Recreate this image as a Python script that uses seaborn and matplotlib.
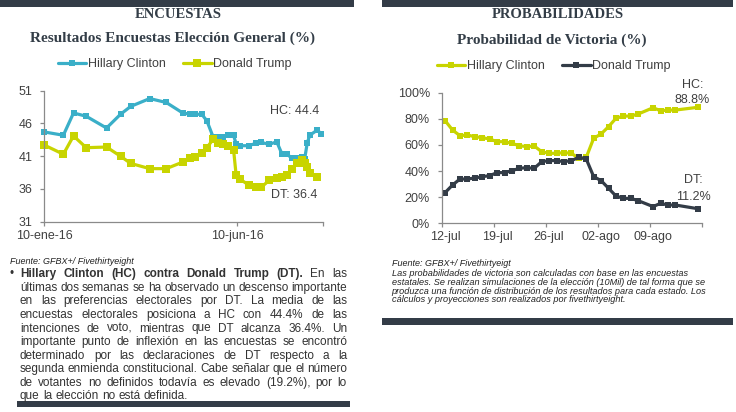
import numpy as np
import pandas as pd
import matplotlib
matplotlib.use("Agg")
import matplotlib.pyplot as plt
from matplotlib.lines import Line2D
from matplotlib.patches import Rectangle
import seaborn as sns

# ---------------- data ----------------
poll_dates = ["2016-01-10", "2016-01-25", "2016-02-02", "2016-02-12", "2016-02-28",
              "2016-03-10", "2016-03-18", "2016-04-02", "2016-04-15", "2016-04-28",
              "2016-05-04", "2016-05-08", "2016-05-13", "2016-05-17", "2016-05-22",
              "2016-05-26", "2016-05-30", "2016-06-03", "2016-06-07", "2016-06-09",
              "2016-06-12", "2016-06-19", "2016-06-25", "2016-06-29", "2016-07-05",
              "2016-07-11", "2016-07-15", "2016-07-19", "2016-07-23", "2016-07-27",
              "2016-07-31", "2016-08-02", "2016-08-04", "2016-08-06", "2016-08-12",
              "2016-08-15"]
poll_hc = [44.7, 44.2, 47.6, 47.1, 45.3, 47.4, 48.6, 49.8, 49.2, 47.6,
           47.4, 47.4, 47.4, 46.4, 43.9, 44.0, 44.0, 44.2, 44.2, 42.9,
           42.6, 42.6, 43.0, 43.1, 42.8, 43.2, 41.4, 41.3, 40.7, 40.8,
           40.9, 40.6, 43.0, 44.2, 45.0, 44.4]
poll_dt = [42.7, 41.3, 44.1, 42.3, 42.4, 41.0, 39.9, 39.1, 39.1, 40.1,
           40.7, 40.9, 41.5, 42.3, 43.6, 43.0, 42.9, 42.5, 42.0, 38.2,
           37.5, 36.6, 36.3, 36.3, 37.3, 37.7, 37.9, 38.2, 39.1, 39.9,
           40.4, 40.0, 39.4, 38.5, 37.9, np.nan]
poll_ticks = ["2016-01-10", "2016-06-10"]
poll_tick_labels = ["10-ene-16", "10-jun-16"]
poll_yticks = [31, 36, 41, 46, 51]

prob_dates = ["2016-07-12", "2016-07-13", "2016-07-14", "2016-07-15", "2016-07-16",
              "2016-07-17", "2016-07-18", "2016-07-19", "2016-07-20", "2016-07-21",
              "2016-07-22", "2016-07-23", "2016-07-24", "2016-07-25", "2016-07-26",
              "2016-07-27", "2016-07-28", "2016-07-29", "2016-07-30", "2016-07-31",
              "2016-08-01", "2016-08-02", "2016-08-03", "2016-08-04", "2016-08-05",
              "2016-08-06", "2016-08-07", "2016-08-09", "2016-08-10", "2016-08-11",
              "2016-08-12", "2016-08-15"]
prob_hc = [78.6, 71.4, 67.1, 67.6, 66.3, 65.6, 64.5, 62.5, 62.5, 61.2,
           59.4, 58.7, 59.2, 54.8, 53.6, 53.6, 54.1, 53.6, 49.7, 50.5,
           65.1, 68.4, 74.0, 80.4, 82.1, 82.1, 83.7, 88.5, 86.2, 86.7,
           86.7, 88.8]
prob_dt = [23.5, 29.3, 33.9, 33.9, 34.7, 35.7, 36.5, 38.8, 38.8, 40.3,
           42.1, 42.6, 42.1, 47.2, 48.0, 48.0, 47.2, 48.0, 50.5, 49.2,
           35.7, 32.7, 26.8, 20.9, 19.1, 19.1, 17.3, 12.8, 15.3, 14.0,
           14.0, 11.2]
prob_ticks = ["2016-07-12", "2016-07-19", "2016-07-26", "2016-08-02", "2016-08-09"]
prob_tick_labels = ["12-jul", "19-jul", "26-jul", "02-ago", "09-ago"]
prob_yticks = [0, 20, 40, 60, 80, 100]

series_names = ["Hillary Clinton", "Donald Trump"]

para_lines = [
    "últimas dos semanas se ha observado un descenso importante",
    "en las preferencias electorales por DT. La media de las",
    "encuestas electorales posiciona a HC con 44.4% de las",
    "intenciones de voto, mientras que DT alcanza 36.4%. Un",
    "importante punto de inflexión en las encuestas se encontró",
    "determinado por las declaraciones de DT respecto a la",
    "segunda enmienda constitucional. Cabe señalar que el número",
    "de votantes no definidos todavía es elevado (19.2%), por lo",
    "que la elección no está definida.",
]
para_bold = "Hillary Clinton (HC) contra Donald Trump (DT)."
para_first_rest = "En las"

note_lines = [
    "Las probabilidades de victoria son calculadas con base en las encuestas",
    "estatales. Se realizan simulaciones de la elección (10Mil) de tal forma que se",
    "produzca una función de distribución de los resultados para cada estado. Los",
    "cálculos y proyecciones son realizados por fivethirtyeight.",
]

# ---------------- style ----------------
BLUE = "#3aafc8"
YELLOW = "#c8d400"
DARK = "#333c47"
GREY = "#8a8a8a"
TXT = "#404040"
TITLE_C = "#333d47"

sns.set_theme(style="white")
plt.rcParams['font.family'] = ['Liberation Sans', 'DejaVu Sans']

W, H = 736, 412
fig = plt.figure(figsize=(W / 100, H / 100), dpi=100)


def fx(px):
    return px / W


def fy(py):
    return 1 - py / H


# ---------------- left chart ----------------
ax1 = fig.add_axes([fx(44.3), fy(221.7), 279 / W, 131 / H])
pd_dates = pd.to_datetime(poll_dates)
sns.lineplot(x=pd_dates, y=poll_hc, ax=ax1, color=BLUE, lw=2.3, marker="s",
             markersize=4.6, markeredgewidth=0, legend=False, clip_on=False)
sns.lineplot(x=pd_dates, y=poll_dt, ax=ax1, color=YELLOW, lw=2.3, marker="s",
             markersize=5.6, markeredgewidth=0, legend=False, clip_on=False)
ax1.set_xlim(pd.Timestamp("2016-01-10"), pd.Timestamp("2016-08-16 16:00"))
ax1.set_ylim(31, 51)
ax1.set_yticks(poll_yticks)
ax1.set_yticklabels([str(v) for v in poll_yticks])
ax1.set_xticks(pd.to_datetime(poll_ticks))
ax1.set_xticklabels(poll_tick_labels)
ax1.set_xticks([pd.Timestamp("2016-08-16 16:00")], minor=True)

# ---------------- right chart ----------------
ax2 = fig.add_axes([fx(441.7), fy(223.3), 260 / W, 130.6 / H])
pr_dates = pd.to_datetime(prob_dates)
sns.lineplot(x=pr_dates, y=prob_hc, ax=ax2, color=YELLOW, lw=2.3, marker="s",
             markersize=4.4, markeredgewidth=0, legend=False, clip_on=False)
sns.lineplot(x=pr_dates, y=prob_dt, ax=ax2, color=DARK, lw=2.3, marker="s",
             markersize=4.4, markeredgewidth=0, legend=False, clip_on=False)
start = pd.Timestamp(prob_ticks[0]) - pd.Timedelta(hours=11)
ax2.set_xlim(start, start + pd.Timedelta(days=35))
ax2.set_ylim(0, 100)
ax2.set_yticks(prob_yticks)
ax2.set_yticklabels([f"{v}%" for v in prob_yticks])
ax2.set_xticks(pd.to_datetime(prob_ticks))
ax2.set_xticklabels(prob_tick_labels)
ax2.set_xticks([start + pd.Timedelta(days=7 * k) for k in range(6)], minor=True)

for ax in (ax1, ax2):
    ax.set_xlabel("")
    ax.set_ylabel("")
    ax.set_facecolor("none")
    for s in ("top", "right"):
        ax.spines[s].set_visible(False)
    for s in ("left", "bottom"):
        ax.spines[s].set_color(GREY)
        ax.spines[s].set_linewidth(0.9)
    ax.tick_params(axis="y", which="major", length=3, width=0.9, color=GREY,
                   direction="out", labelsize=9, labelcolor=TXT, pad=5.5, left=True)
    ax.tick_params(axis="x", which="minor", length=3, width=0.9, color=GREY,
                   direction="out", bottom=True)
    ax.grid(False)

ax1.tick_params(axis="x", which="major", length=3, width=0.9, color=GREY,
                direction="out", labelsize=9, labelcolor=TXT, pad=3, bottom=True)
ax2.tick_params(axis="x", which="major", length=0, labelsize=9, labelcolor=TXT,
                pad=5.5, bottom=True)

# ---------------- legends ----------------
h_left = [Line2D([0], [0], color=BLUE, lw=2.3, marker="s", markersize=4.6, markeredgewidth=0),
          Line2D([0], [0], color=YELLOW, lw=2.3, marker="s", markersize=5.6, markeredgewidth=0)]
fig.legend(h_left, series_names, loc="center", bbox_to_anchor=(fx(174.5), fy(64)),
           ncol=2, frameon=False, fontsize=9, handlelength=2.3, handletextpad=0.1,
           columnspacing=1.4, borderpad=0, labelcolor=TXT)
h_right = [Line2D([0], [0], color=YELLOW, lw=2.3, marker="s", markersize=4.4, markeredgewidth=0),
           Line2D([0], [0], color=DARK, lw=2.3, marker="s", markersize=4.4, markeredgewidth=0)]
fig.legend(h_right, series_names, loc="center", bbox_to_anchor=(fx(553.5), fy(66)),
           ncol=2, frameon=False, fontsize=9, handlelength=2.3, handletextpad=0.1,
           columnspacing=1.4, borderpad=0, labelcolor=TXT)

# ---------------- titles ----------------
serif = ["Liberation Serif", "DejaVu Serif"]
fig.text(fx(178.7), fy(14), "ENCUESTAS", ha="center", va="center", family=serif,
         weight="bold", fontsize=10.5, color=TITLE_C)
fig.text(fx(172.7), fy(38.5), "Resultados Encuestas Elección General (%)", ha="center",
         va="center", family=serif, weight="bold", fontsize=11, color=TITLE_C)
fig.text(fx(557.5), fy(14), "PROBABILIDADES", ha="center", va="center", family=serif,
         weight="bold", fontsize=10.5, color=TITLE_C)
fig.text(fx(551.7), fy(40.7), "Probabilidad de Victoria (%)", ha="center", va="center",
         family=serif, weight="bold", fontsize=11, color=TITLE_C)

# ---------------- annotations ----------------
fig.text(fx(295), fy(111), "HC: 44.4", ha="center", va="center", fontsize=9, color=TXT)
fig.text(fx(294), fy(195), "DT: 36.4", ha="center", va="center", fontsize=9, color=TXT)
fig.text(fx(692.5), fy(85), "HC:", ha="center", va="center", fontsize=9, color=TXT)
fig.text(fx(692.5), fy(100), "88.8%", ha="center", va="center", fontsize=9, color=TXT)
fig.text(fx(693.5), fy(180), "DT:", ha="center", va="center", fontsize=9, color=TXT)
fig.text(fx(693.5), fy(197), "11.2%", ha="center", va="center", fontsize=9, color=TXT)

# ---------------- bars ----------------
def bar(x0, y0, x1, y1):
    fig.add_artist(Rectangle((fx(x0), fy(y1)), (x1 - x0) / W, (y1 - y0) / H,
                             transform=fig.transFigure, color=DARK, lw=0))


bar(0, 0, 354, 6.7)
bar(382, 0, 733, 7)
bar(17, 401, 350, 407)
bar(382, 318, 733, 325)

# ---------------- source / notes ----------------
fig.text(fx(10), fy(263.5), "Fuente: GFBX+/ Fivethirtyeight", ha="left", va="baseline",
         fontsize=6.5, style="italic", color="#222222")
fig.text(fx(391.7), fy(265.5), "Fuente: GFBX+/ Fivethirtyeigt", ha="left", va="baseline",
         fontsize=6.5, style="italic", color="#222222")
for i, line in enumerate(note_lines):
    fig.text(fx(391.7), fy(276.3 + 8.7 * i), line, ha="left", va="baseline",
             fontsize=6.6, style="italic", color="#222222")

# justified paragraph
renderer = fig.canvas.get_renderer()
PFS = 8.5
PC = "#333333"


def width_px(s, weight="normal"):
    t = fig.text(0, 0, s, fontsize=PFS, weight=weight)
    w = t.get_window_extent(renderer).width
    t.remove()
    return w


X0, X1 = 20, 347
base0, step = 277.3, 13.55
space_px = PFS * 100 / 72 * 0.278
fig.text(fx(9), fy(base0), "•", ha="left", va="baseline", fontsize=PFS, color=PC)

words0 = [(w, "bold") for w in para_bold.split()] + [(w, "normal") for w in para_first_rest.split()]
all_lines = [words0] + [[(w, "normal") for w in ln.split()] for ln in para_lines]
for i, words in enumerate(all_lines):
    ws = [width_px(w, wt) for w, wt in words]
    y = fy(base0 + step * i)
    last = (i == len(all_lines) - 1)
    gap = space_px if last else (X1 - X0 - sum(ws)) / (len(words) - 1)
    x = X0
    for (w, wt), wd in zip(words, ws):
        fig.text(fx(x), y, w, ha="left", va="baseline", fontsize=PFS, weight=wt, color=PC)
        x += wd + gap

fig.savefig("out.png", dpi=100)
